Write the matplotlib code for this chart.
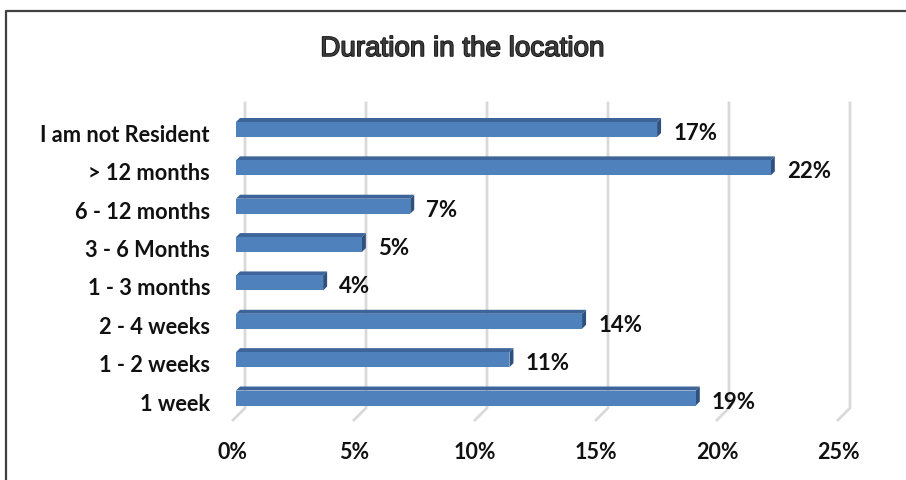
import matplotlib
matplotlib.use("Agg")
import matplotlib.pyplot as plt
import matplotlib.patheffects as pe
from matplotlib.patches import Polygon, Rectangle
from matplotlib.lines import Line2D

categories = ["I am not Resident", "> 12 months", "6 - 12 months", "3 - 6 Months",
              "1 - 3 months", "2 - 4 weeks", "1 - 2 weeks", "1 week"]
shares = [17.4, 22.1, 7.2, 5.2, 3.6, 14.3, 11.3, 19.0]   # percent of respondents
ticks = [0, 5, 10, 15, 20, 25]
title = "Duration in the location"

W, H, DPI = 906, 480, 100
fig = plt.figure(figsize=(W / DPI, H / DPI), dpi=DPI)

# axes laid out in pixels; x in %, y in category slots (0 = top)
ax_l, ax_r, ax_t, ax_b = 200, 880, 100, 470
PXX = 24.2     # pixels per percent
PXY = 38.36    # pixels per category slot
X0, Y0 = 236, 129.5   # pixel position of 0% / first slot centre
ax = fig.add_axes([ax_l / W, 1 - ax_b / H, (ax_r - ax_l) / W, (ax_b - ax_t) / H])
ax.set_xlim((ax_l - X0) / PXX, (ax_r - X0) / PXX)
ax.set_ylim((ax_b - Y0) / PXY, (ax_t - Y0) / PXY)
ax.axis("off")

def px(dx=0, dy=0):
    return dx / PXX, dy / PXY

lab = dict(fontweight="bold", family="Lato", color="#111111")

# back-wall gridlines with the slanted floor at the bottom
g_dx, _ = px(9)
_, g_top = px(0, 103 - Y0)
_, g_bot = px(0, 408 - Y0)
f_dx, f_dy = px(-12, 12)
for t in ticks:
    xb = t + g_dx
    ax.plot([xb, xb, xb + f_dx], [g_top, g_bot, g_bot + f_dy],
            color="#d9d9d9", lw=2, solid_joinstyle="miter", zorder=1)
    lx, ly = px(-3, 453 - Y0)
    ax.text(t + lx, ly, f"{t}%", ha="center", va="center", fontsize=15.5, **lab)

# 3D-looking bars: front face, top face, end face
hh = px(0, 7.5)[1]
dx, dy = px(4, -4)
for i, (cat, v) in enumerate(zip(categories, shares)):
    top, bot = i - hh, i + hh
    ax.add_patch(Polygon([(0, top), (v, top), (v + dx, top + dy), (dx, top + dy)],
                         closed=True, fc="#3e659a", ec="none", zorder=3))
    ax.add_patch(Polygon([(v, top), (v + dx, top + dy), (v + dx, bot + dy), (v, bot)],
                         closed=True, fc="#2f5180", ec="none", zorder=3))
    ax.add_patch(Rectangle((0, top), v, bot - top, fc="#4f81bd", ec="none", zorder=4))
    ax.text(v + px(16)[0], i + px(0, 4)[1], f"{v:.0f}%", ha="left", va="center",
            fontsize=16, zorder=5, **lab)
    ax.text(px(210 - X0)[0], i + px(0, 6)[1], cat, ha="right", va="center",
            fontsize=15.7, **lab)

fig.text(462 / W, 1 - 49 / H, title, ha="center", va="center",
         fontsize=20, family="Liberation Sans", color="#3a3a3a",
         path_effects=[pe.withStroke(linewidth=1.1, foreground="#111111")])

# chart border (top and left edges visible)
fig.add_artist(Line2D([6 / W, 6 / W, 1], [0, 1 - 11 / H, 1 - 11 / H],
                      transform=fig.transFigure, color="#404040", lw=1.6))

fig.savefig("out.png", dpi=DPI)
